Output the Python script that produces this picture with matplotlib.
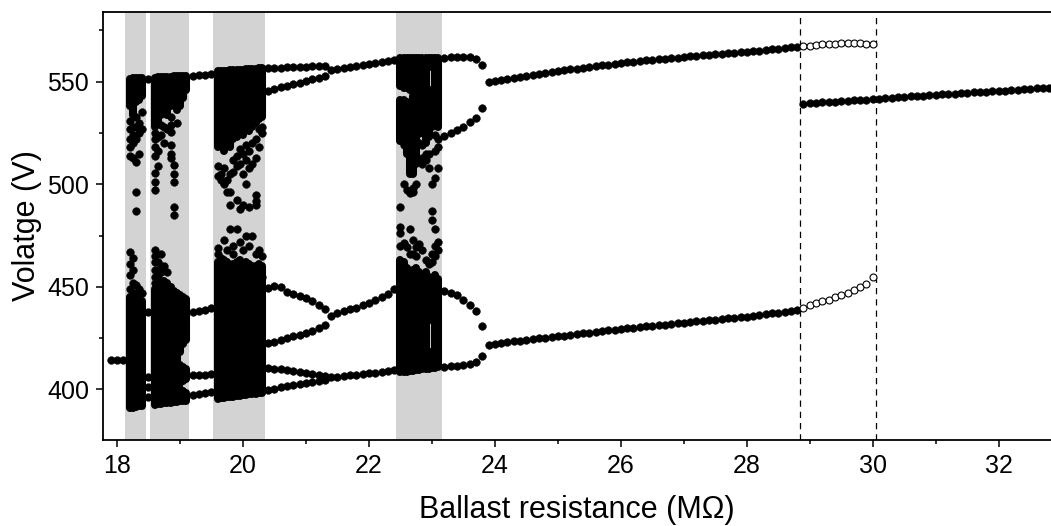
import numpy as np
import matplotlib
matplotlib.use("Agg")
import matplotlib.pyplot as plt
from matplotlib.ticker import MultipleLocator

plt.rcParams['font.family'] = ['Liberation Sans', 'DejaVu Sans']

# ------------------------------------------------------------------ data
shade_spans = [(18.13, 18.46), (18.52, 19.14), (19.52, 20.35), (22.43, 23.16)]
dashed_x = [28.85, 30.05]

# period-1 before the first chaotic band
p1_x = [17.9, 18.0, 18.1]
p1_y = [414.3, 414.3, 414.4]

# narrow window at 18.5
w0_x = 18.5
w0_y = [551.5, 437.5, 406.0, 401.0, 396.5]

# window 19.2-19.5
w1_x = [19.2, 19.3, 19.4, 19.5]
w1_top = [553.0, 553.2, 553.4, 553.6]
w1_mid = [437.9, 438.4, 438.9, 439.8]
w1_low = [407.0, 407.0, 407.2, 407.5]
w1_bot = [397.0, 397.5, 398.2, 398.8]

# period-6 window 20.4-21.3
w2_x = [20.4, 20.5, 20.6, 20.7, 20.8, 20.9, 21.0, 21.1, 21.2, 21.3]
w2_t1 = [556.5, 556.7, 556.8, 557.0, 557.1, 557.3, 557.4, 557.5, 557.7, 557.8]
w2_t2 = [545.5, 546.4, 547.2, 548.0, 548.8, 549.6, 550.4, 551.2, 552.0, 552.9]
w2_l1 = [449.5, 450.3, 450.0, 447.5, 446.5, 445.7, 444.5, 442.9, 441.2, 439.3]
w2_l2 = [422.5, 423.3, 424.1, 424.9, 425.8, 426.7, 427.6, 428.6, 429.8, 431.2]
w2_b1 = [410.5, 410.1, 409.7, 409.2, 408.8, 408.3, 407.8, 407.3, 406.9, 406.5]
w2_b2 = [399.8, 400.3, 400.9, 401.4, 401.9, 402.5, 403.0, 403.6, 404.2, 404.8]

# period-3 window 21.4-22.4
w3_x = [21.4, 21.5, 21.6, 21.7, 21.8, 21.9, 22.0, 22.1, 22.2, 22.3, 22.4]
w3_t = [555.8, 556.3, 556.8, 557.3, 557.8, 558.3, 558.8, 559.3, 559.8, 560.3, 560.7]
w3_l = [435.8, 437.2, 438.2, 439.0, 439.7, 440.9, 442.2, 443.4, 445.0, 446.6, 449.0]
w3_b = [405.8, 406.1, 406.4, 406.8, 407.1, 407.4, 407.8, 408.1, 408.4, 408.8, 409.2]

# period-4 window 23.2-23.8
w4_x = [23.2, 23.3, 23.4, 23.5, 23.6, 23.7, 23.8]
w4_t = [561.7, 562.0, 562.3, 562.3, 562.0, 561.2, 558.3]
w4_t2 = [523.5, 525.1, 526.4, 528.0, 530.2, 532.5, 537.2]
w4_l = [448.0, 447.1, 446.1, 443.8, 441.3, 438.0, 430.9]
w4_b = [411.0, 411.5, 411.5, 411.8, 412.3, 413.1, 416.4]

# period-2 branches 23.9-28.8 (filled)
p2_x = np.round(np.arange(23.9, 28.85, 0.1), 1)
p2_up = [549.7, 550.3, 550.8, 551.3, 551.8, 552.3, 552.8, 553.3, 553.8, 554.2,
         554.7, 555.1, 555.6, 556.0, 556.4, 556.8, 557.2, 557.6, 558.0, 558.4,
         558.8, 559.2, 559.5, 559.8, 560.1, 560.4, 560.7, 561.0, 561.3, 561.6,
         561.8, 562.1, 562.4, 562.6, 562.9, 563.1, 563.4, 563.6, 563.9, 564.1,
         564.4, 564.6, 564.9, 565.2, 565.5, 565.8, 566.1, 566.4, 566.7, 567.0]
p2_lo = [421.8, 422.3, 422.7, 423.0, 423.4, 423.8, 424.1, 424.5, 424.8, 425.2,
         425.5, 425.9, 426.2, 426.6, 426.9, 427.3, 427.6, 428.0, 428.4, 428.7,
         429.1, 429.5, 429.8, 430.1, 430.4, 430.7, 431.0, 431.3, 431.6, 431.9,
         432.2, 432.5, 432.8, 433.1, 433.4, 433.7, 434.0, 434.3, 434.6, 434.9,
         435.2, 435.5, 435.9, 436.2, 436.6, 437.0, 437.3, 437.7, 438.1, 438.5]

# unstable (open) period-2 continuation 28.9-30.0
op_x = [28.9, 29.0, 29.1, 29.2, 29.3, 29.4, 29.5, 29.6, 29.7, 29.8, 29.9, 30.0]
op_up = [567.2, 567.6, 567.9, 568.2, 568.4, 568.6, 568.7, 568.8, 568.8, 568.7, 568.6, 568.4]
op_lo = [439.7, 441.3, 442.2, 442.9, 443.7, 444.8, 445.8, 446.9, 448.2, 449.7, 451.3, 454.7]

# period-1 branch 28.9-32.8
p1b_x = np.round(np.arange(28.9, 32.85, 0.1), 1)
p1b_y = [539.3, 539.5, 539.7, 539.9, 540.1, 540.3, 540.5, 540.7, 540.9, 541.1,
         541.3, 541.6, 541.8, 542.0, 542.2, 542.4, 542.6, 542.8, 543.0, 543.2,
         543.4, 543.6, 543.8, 544.0, 544.2, 544.4, 544.6, 544.8, 545.0, 545.2,
         545.4, 545.6, 545.7, 545.9, 546.1, 546.3, 546.5, 546.7, 546.9, 547.0]

# chaotic columns: (R, dense ranges [lo, hi], isolated values)
chaos1 = [
    (18.20, [(538, 551.5), (390.8, 445)], [531, 527, 522, 518, 514, 449, 456, 461, 467]),
    (18.25, [(534, 551.6), (391.1, 447)], [528, 524, 520, 513, 452, 458, 464]),
    (18.30, [(540, 551.7), (391.4, 446)], [533, 528, 522, 511, 496, 487, 451]),
    (18.35, [(541, 551.8), (391.7, 444)], [530, 525, 515, 449]),
    (18.40, [(543, 551.9), (392.0, 443)], [535, 527, 447]),
]
chaos2 = [
    (18.60, [(528, 552.0), (392.5, 449)], [525, 522, 518, 514, 505.5, 501, 497, 468, 465, 462, 458, 455, 452]),
    (18.65, [(530, 552.1), (392.7, 449)], [523, 516, 509, 462, 456]),
    (18.70, [(534, 552.2), (392.9, 453)], [529, 524, 466, 460, 457]),
    (18.75, [(535, 552.3), (393.1, 453)], [528, 520, 460]),
    (18.80, [(534, 552.4), (393.3, 452)], [527, 457]),
    (18.85, [(538, 552.5), (393.5, 450)], [532.7, 528.7, 525.5, 519, 515, 512.6]),
    (18.90, [(540, 552.6), (393.7, 448)], [509.3, 505, 501, 489, 485]),
    (18.95, [(536, 552.7), (393.9, 447)], [530]),
    (19.00, [(538, 552.8), (394.1, 400), (403, 412), (418, 446)], []),
    (19.05, [(542, 552.9), (394.3, 399), (404, 411), (422, 445)], []),
    (19.10, [(546, 553.0), (394.5, 398), (405, 410), (424, 444)], []),
]
chaos3 = [
    (19.60, [(518, 555.0), (395.5, 462)], [509, 504, 469, 466]),
    (19.65, [(520, 555.1), (395.7, 461)], [505, 502, 464]),
    (19.70, [(516, 555.2), (395.9, 463)], [508, 500, 473]),
    (19.75, [(519, 555.4), (396.1, 462)], [502, 496, 468]),
    (19.80, [(518, 555.5), (396.3, 460)], [505, 496, 490, 478]),
    (19.85, [(522, 555.6), (396.5, 461)], [512, 506, 470, 466]),
    (19.90, [(549, 555.7), (523, 540), (396.7, 426), (433, 462)], [514, 509, 492.5, 478]),
    (19.95, [(525, 555.8), (396.9, 463)], [517, 510, 488, 472]),
    (20.00, [(524, 555.9), (397.1, 461)], [515, 505, 490, 468]),
    (20.05, [(527, 556.0), (397.3, 462)], [519, 512, 500, 475]),
    (20.10, [(550, 556.1), (526, 542), (397.5, 422), (427, 461)], [516, 508, 489, 470]),
    (20.15, [(528, 556.2), (397.7, 460)], [520, 510, 474.6]),
    (20.20, [(530, 556.4), (397.9, 412), (415, 460)], [522, 513, 495, 492, 490, 466]),
    (20.25, [(532, 556.5), (398.1, 461)], [527, 518, 468]),
    (20.30, [(533, 556.7), (398.3, 460)], [528, 525, 465, 455]),
]
chaos4 = [
    (22.50, [(548, 561.4), (521, 541), (408.3, 463)], [489, 479, 476, 470]),
    (22.55, [(547, 561.4), (525, 541), (408.5, 462)], [519, 500, 471.5]),
    (22.60, [(547, 561.5), (515, 540), (408.7, 459)], [497, 469.5]),
    (22.65, [(546, 561.5), (505, 538), (408.9, 456)], [495.6, 478, 466]),
    (22.70, [(546, 561.5), (505, 543), (409.1, 458)], [498, 496, 473, 466]),
    (22.75, [(546, 561.6), (510, 543), (409.3, 459)], [500, 469.5, 465]),
    (22.80, [(530, 561.6), (409.5, 457)], [525, 520, 471]),
    (22.85, [(525, 561.6), (409.7, 456)], [519, 513, 510, 468]),
    (22.90, [(520, 561.7), (409.9, 457)], [515, 512, 463]),
    (22.95, [(557, 561.7), (523, 546), (410.1, 418), (434, 455)], [515, 508, 461]),
    (23.00, [(557, 561.7), (528, 546), (410.3, 418), (434, 453)], [500, 487, 482.5, 466, 462]),
    (23.05, [(530, 561.8), (410.5, 456)], [524, 516, 503, 478, 470, 465]),
    (23.10, [(528, 561.8), (410.7, 454)], [522, 518, 508, 472, 468]),
]

# ------------------------------------------------------------------ figure
W, H = 1051, 526
fig = plt.figure(figsize=(W / 100, H / 100), dpi=100)
ax = fig.add_axes([103 / W, 1 - 440 / H, (W - 103) / W, (440 - 12) / H])

MS = 5.6
LW_SEG = 5.8
dot = dict(ls='none', marker='o', ms=MS, mfc='black', mec='black', mew=0.3, zorder=3)

for lo, hi in shade_spans:
    ax.axvspan(lo, hi, color='#d3d3d3', lw=0, zorder=0)

for xv in dashed_x:
    ax.axvline(xv, color='black', lw=0.9, ls=(0, (5, 4)), zorder=1)

# periodic branches
ax.plot(p1_x, p1_y, **dot)
ax.plot([w0_x] * len(w0_y), w0_y, **dot)
for ys in (w1_top, w1_mid, w1_low, w1_bot):
    ax.plot(w1_x, ys, **dot)
for ys in (w2_t1, w2_t2, w2_l1, w2_l2, w2_b1, w2_b2):
    ax.plot(w2_x, ys, **dot)
for ys in (w3_t, w3_l, w3_b):
    ax.plot(w3_x, ys, **dot)
for ys in (w4_t, w4_t2, w4_l, w4_b):
    ax.plot(w4_x, ys, **dot)
ax.plot(p2_x, p2_up, **dot)
ax.plot(p2_x, p2_lo, **dot)
ax.plot(p1b_x, p1b_y, **dot)

# chaotic bands
for band in (chaos1, chaos2, chaos3, chaos4):
    for xr, ranges, singles in band:
        lows = [r[0] for r in ranges]
        highs = [r[1] for r in ranges]
        lc = ax.vlines([xr] * len(ranges), lows, highs, colors='black',
                       linewidth=LW_SEG, zorder=3)
        lc.set_capstyle('round')
        if singles:
            ax.plot([xr] * len(singles), singles, **dot)

# unstable (open) points
ax.plot(op_x, op_up, ls='none', marker='o', ms=5.0, mfc='white', mec='black', mew=0.8, zorder=4)
ax.plot(op_x, op_lo, ls='none', marker='o', ms=5.0, mfc='white', mec='black', mew=0.8, zorder=4)

# axes styling
ax.set_xlim(17.778, 32.83)
ax.set_ylim(375.3, 584.0)
ax.xaxis.set_major_locator(MultipleLocator(2))
ax.xaxis.set_minor_locator(MultipleLocator(1))
ax.yaxis.set_major_locator(MultipleLocator(50))
ax.yaxis.set_minor_locator(MultipleLocator(25))
ax.tick_params(which='major', direction='out', length=5, width=1.1, labelsize=18, pad=5)
ax.tick_params(which='minor', direction='out', length=3, width=1.1)
ax.spines['right'].set_visible(False)
for s in ('left', 'bottom', 'top'):
    ax.spines[s].set_linewidth(1.3)

ax.set_xlabel('Ballast resistance (M\u03a9)', fontsize=22, labelpad=12)
ax.set_ylabel('Volatge (V)', fontsize=22, labelpad=4)

fig.savefig('out.png', dpi=100)
